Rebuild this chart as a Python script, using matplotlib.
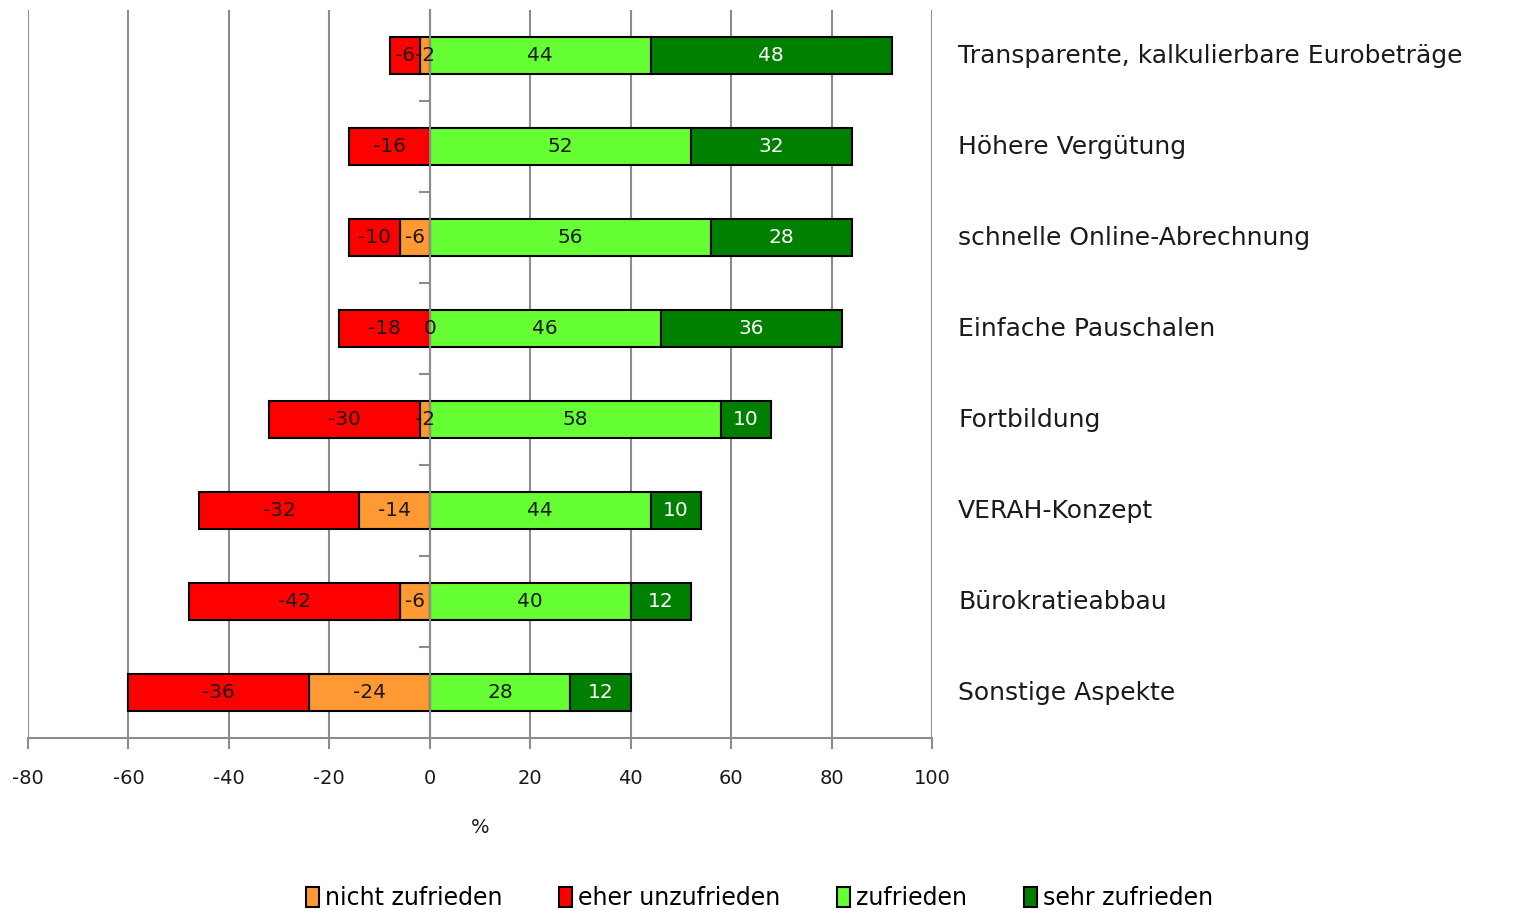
import numpy as np
import matplotlib
matplotlib.use("Agg")
import matplotlib.pyplot as plt

plt.rcParams['font.family'] = ['DejaVu Sans']
plt.rcParams['axes.unicode_minus'] = False

categories = ["Transparente, kalkulierbare Eurobeträge", "Höhere Vergütung",
              "schnelle Online-Abrechnung", "Einfache Pauschalen", "Fortbildung",
              "VERAH-Konzept", "Bürokratieabbau", "Sonstige Aspekte"]
nicht_zufrieden = [-2, None, -6, 0, -2, -14, -6, -24]
eher_unzufrieden = [-6, -16, -10, -18, -30, -32, -42, -36]
zufrieden = [44, 52, 56, 46, 58, 44, 40, 28]
sehr_zufrieden = [48, 32, 28, 36, 10, 10, 12, 12]

c_orange = '#FF9933'
c_red = '#FF0000'
c_lgreen = '#66FF33'
c_dgreen = '#008000'
grid_c = '#8C8C8C'
txt_c = '#1a1a1a'

fig = plt.figure(figsize=(15.13, 9.10), dpi=100)
ax = fig.add_axes([0.0185, 0.189, 0.5975, 0.800])

y = np.arange(len(categories))
h = 0.4
nz = np.array([np.nan if v is None else v for v in nicht_zufrieden], dtype=float)
nz_fill = np.nan_to_num(nz)
eu = np.array(eher_unzufrieden, dtype=float)
z = np.array(zufrieden, dtype=float)
sz = np.array(sehr_zufrieden, dtype=float)

kw = dict(height=h, edgecolor='black', linewidth=1.5, zorder=3)
b_nz = ax.barh(y, nz_fill, left=0, color=c_orange, label='nicht zufrieden', **kw)
b_eu = ax.barh(y, eu, left=nz_fill, color=c_red, label='eher unzufrieden', **kw)
b_z = ax.barh(y, z, left=0, color=c_lgreen, label='zufrieden', **kw)
b_sz = ax.barh(y, sz, left=z, color=c_dgreen, label='sehr zufrieden', **kw)

fs = 14.5
for i in range(len(categories)):
    if not np.isnan(nz[i]):
        ax.text(nz_fill[i] / 2, y[i], f"{int(nz[i])}", ha='center', va='center',
                fontsize=fs, color=txt_c, zorder=5)
    ax.text(nz_fill[i] + eu[i] / 2, y[i], f"{int(eu[i])}", ha='center', va='center',
            fontsize=fs, color=txt_c, zorder=5)
    ax.text(z[i] / 2, y[i], f"{int(z[i])}", ha='center', va='center',
            fontsize=fs, color=txt_c, zorder=5)
    ax.text(z[i] + sz[i] / 2, y[i], f"{int(sz[i])}", ha='center', va='center',
            fontsize=fs, color='white', zorder=5)
    ax.text(105.2, y[i], categories[i], ha='left', va='center', fontsize=18,
            color=txt_c, clip_on=False)

ax.set_xlim(-80, 100)
ax.set_ylim(len(categories) - 0.5, -0.5)
ax.set_xticks(np.arange(-80, 101, 20))
ax.tick_params(axis='x', labelsize=14, colors=grid_c, labelcolor=txt_c,
               length=8, width=1.5, pad=14)
ax.xaxis.grid(True, color=grid_c, linewidth=1.5, zorder=0)
ax.set_axisbelow(True)

# y axis sits on the zero line, ticks between categories
ax.spines['left'].set_position(('data', 0))
ax.spines['left'].set_color(grid_c)
ax.spines['left'].set_linewidth(1.5)
ax.spines['left'].set_zorder(4)
ax.set_yticks(np.arange(0.5, len(categories) - 1, 1.0))
ax.set_yticklabels([])
ax.tick_params(axis='y', colors=grid_c, length=8, width=1.5)
ax.spines['bottom'].set_color(grid_c)
ax.spines['bottom'].set_linewidth(1.5)
ax.spines['top'].set_visible(False)
ax.spines['right'].set_visible(False)

ax.set_xlabel('%', fontsize=14, color=txt_c, labelpad=22)

fig.legend(handles=[b_nz, b_eu, b_z, b_sz], loc='center', bbox_to_anchor=(0.502, 0.013),
           ncol=4, frameon=False, fontsize=17, handlelength=0.55, handleheight=0.9,
           handletextpad=0.25, columnspacing=2.4)

fig.savefig('out.png', dpi=100)
